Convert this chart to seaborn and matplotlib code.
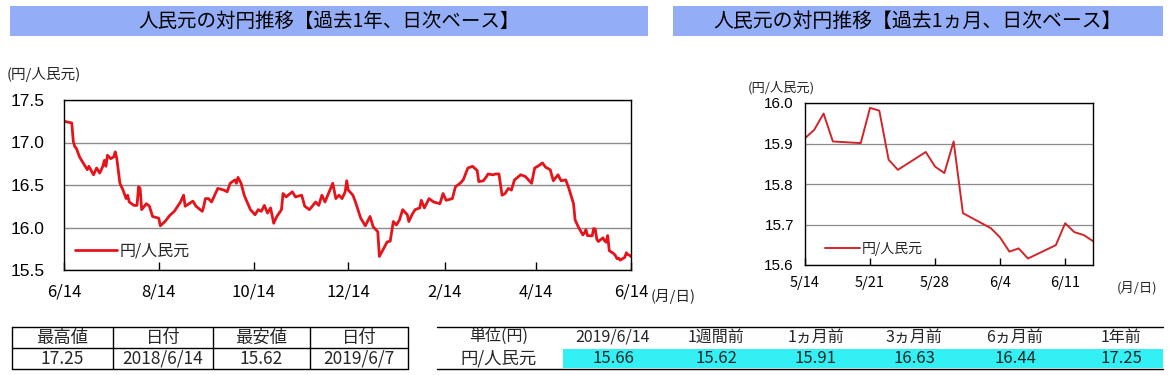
import numpy as np
import pandas as pd
import matplotlib
matplotlib.use("Agg")
import matplotlib.pyplot as plt
import seaborn as sns
from matplotlib.patches import Rectangle
from matplotlib.lines import Line2D

# ---------------- data ----------------
year_start = "2018-06-14"
# calendar-day offsets from 2018-06-14
year_day_offsets = [0, 5, 6, 7, 8, 10, 13, 15, 16, 19, 21, 23, 25, 26, 27, 28, 30, 32, 33, 34,
                    36, 38, 40, 41, 42, 45, 47, 48, 49, 50, 53, 55, 57, 61, 62, 65, 68, 71, 75, 77,
                    78, 83, 85, 89, 90, 91, 93, 95, 99, 103, 105, 107, 110, 111, 112, 114, 116, 120, 123, 125,
                    127, 129, 131, 133, 135, 137, 140, 141, 143, 147, 149, 153, 155, 158, 162, 164, 166, 168, 173, 175,
                    177, 179, 181, 182, 183, 186, 188, 191, 194, 197, 199, 202, 203, 206, 208, 210, 212, 214, 216, 218,
                    221, 222, 224, 226, 229, 230, 232, 235, 238, 242, 244, 246, 250, 252, 255, 257, 260, 263, 266, 267,
                    270, 272, 273, 276, 278, 280, 282, 284, 286, 288, 290, 294, 297, 301, 303, 305, 308, 310, 313, 315,
                    318, 320, 323, 325, 328, 329, 331]
year_values = [17.25, 17.23, 17.01, 16.95, 16.93, 16.83, 16.74, 16.68, 16.72, 16.62, 16.70, 16.64, 16.72, 16.79, 16.72, 16.85, 16.81, 16.83, 16.89, 16.81,
               16.52, 16.44, 16.34, 16.38, 16.30, 16.26, 16.26, 16.48, 16.46, 16.21, 16.28, 16.25, 16.13, 16.11, 16.02, 16.07, 16.14, 16.19, 16.30, 16.38,
               16.25, 16.31, 16.25, 16.19, 16.25, 16.34, 16.34, 16.30, 16.46, 16.44, 16.42, 16.52, 16.56, 16.52, 16.59, 16.52, 16.38, 16.21, 16.15, 16.21,
               16.19, 16.26, 16.17, 16.23, 16.05, 16.13, 16.21, 16.40, 16.36, 16.42, 16.36, 16.38, 16.25, 16.21, 16.30, 16.26, 16.38, 16.30, 16.52, 16.34,
               16.38, 16.34, 16.42, 16.55, 16.44, 16.38, 16.28, 16.11, 16.02, 16.13, 16.01, 15.95, 15.66, 15.76, 15.83, 15.84, 16.07, 16.03, 16.09, 16.21,
               16.15, 16.07, 16.15, 16.21, 16.23, 16.32, 16.23, 16.34, 16.30, 16.28, 16.40, 16.32, 16.34, 16.48, 16.52, 16.56, 16.70, 16.72, 16.67, 16.54,
               16.55, 16.60, 16.63, 16.62, 16.63, 16.63, 16.38, 16.40, 16.46, 16.44, 16.56, 16.62, 16.60, 16.52, 16.70, 16.72, 16.76, 16.71, 16.68, 16.55,
               16.62, 16.55, 16.56, 16.46, 16.28, 16.09, 16.01]

month_dates = ["2019-05-14", "2019-05-15", "2019-05-16", "2019-05-17", "2019-05-20", "2019-05-21",
               "2019-05-22", "2019-05-23", "2019-05-24", "2019-05-27", "2019-05-28", "2019-05-29",
               "2019-05-30", "2019-05-31", "2019-06-03", "2019-06-04", "2019-06-05", "2019-06-06",
               "2019-06-07", "2019-06-10", "2019-06-11", "2019-06-12", "2019-06-13", "2019-06-14"]
month_values = [15.913, 15.934, 15.974, 15.905, 15.901, 15.988,
                15.981, 15.860, 15.835, 15.879, 15.843, 15.827,
                15.905, 15.728, 15.691, 15.668, 15.633, 15.641,
                15.616, 15.649, 15.703, 15.681, 15.674, 15.659]

series_name = "円/人民元"
year_xtick_dates = ["2018-06-14", "2018-08-14", "2018-10-14", "2018-12-14",
                    "2019-02-14", "2019-04-14", "2019-06-14"]
year_xtick_labels = ["6/14", "8/14", "10/14", "12/14", "2/14", "4/14", "6/14"]
year_yticks = [15.5, 16.0, 16.5, 17.0, 17.5]
month_xtick_dates = ["2019-05-14", "2019-05-21", "2019-05-28", "2019-06-04", "2019-06-11"]
month_xtick_labels = ["5/14", "5/21", "5/28", "6/4", "6/11"]
month_yticks = [15.6, 15.7, 15.8, 15.9, 16.0]

title_year = "人民元の対円推移【過去1年、日次ベース】"
title_month = "人民元の対円推移【過去1ヵ月、日次ベース】"
unit_label = "(円/人民元)"
date_label = "(月/日)"

hl_headers = ["最高値", "日付", "最安値", "日付"]
hl_values = ["17.25", "2018/6/14", "15.62", "2019/6/7"]
cmp_headers = ["単位(円)", "2019/6/14", "1週間前", "1ヵ月前", "3ヵ月前", "6ヵ月前", "1年前"]
cmp_row_label = "円/人民元"
cmp_values = ["15.66", "15.62", "15.91", "16.63", "16.44", "17.25"]

# ---------------- frames ----------------
month_df = pd.DataFrame({"date": pd.to_datetime(month_dates), "value": month_values})
year_part = pd.DataFrame({"date": pd.Timestamp(year_start) + pd.to_timedelta(year_day_offsets, unit="D"),
                          "value": year_values})
year_df = pd.concat([year_part, month_df], ignore_index=True)

# ---------------- style ----------------
sns.set_theme(style="white")
plt.rcParams["font.family"] = ["Noto Sans CJK JP", "DejaVu Sans"]

RED1 = "#E5141B"
RED2 = "#D0262B"
GRID = "#8C8C8C"
BANNER = "#93AEF6"
CYAN = "#33F0F4"

W, H = 1170, 375
fig = plt.figure(figsize=(W / 100, H / 100), dpi=100)
fig.patch.set_facecolor("white")


def fx(px):
    return px / W


def fy(py):
    return 1 - py / H


def hline(x0, x1, y, lw=1.0):
    fig.add_artist(Line2D([fx(x0), fx(x1)], [fy(y), fy(y)], transform=fig.transFigure,
                          color="black", lw=lw))


def vline(x, y0, y1, lw=1.0):
    fig.add_artist(Line2D([fx(x), fx(x)], [fy(y0), fy(y1)], transform=fig.transFigure,
                          color="black", lw=lw))


# banners
for (x0, x1, txt, fs) in [(10, 648, title_year, 14), (673, 1163, title_month, 14.3)]:
    fig.add_artist(Rectangle((fx(x0), fy(36)), fx(x1) - fx(x0), fy(6) - fy(36),
                             transform=fig.transFigure, facecolor=BANNER, edgecolor="none"))
    fig.text(fx((x0 + x1) / 2), fy(21), txt, ha="center", va="center", fontsize=fs, color="black")

# ---------------- left chart ----------------
ax1 = fig.add_axes([fx(64), fy(270), fx(631) - fx(64), fy(100) - fy(270)])
sns.lineplot(data=year_df, x="date", y="value", ax=ax1, color=RED1, lw=2.0, label=series_name)
ax1.set_xlim(year_df["date"].iloc[0], year_df["date"].iloc[-1])
ax1.set_ylim(15.5, 17.5)
ax1.set_yticks(year_yticks)
ax1.set_yticklabels([f"{v:.1f}" for v in year_yticks], fontsize=12.5, family="Liberation Sans")
ax1.set_xticks(pd.to_datetime(year_xtick_dates))
ax1.set_xticklabels(year_xtick_labels, fontsize=12)
ax1.set_xlabel("")
ax1.set_ylabel("")
ax1.grid(axis="y", color=GRID, lw=1.0)
ax1.grid(axis="x", visible=False)
ax1.tick_params(axis="x", direction="in", length=6, width=1, pad=10, colors="black", bottom=True)
ax1.tick_params(axis="y", length=0, pad=14, colors="black")
for s in ax1.spines.values():
    s.set_color("black")
    s.set_linewidth(1.0)
ax1.legend(loc="center left", bbox_to_anchor=(0.02, 0.11), frameon=False, fontsize=11.5,
           handlelength=2.6, handletextpad=0.15, borderpad=0, borderaxespad=0)
fig.text(fx(7), fy(74), unit_label, ha="left", va="center", fontsize=10.5)
fig.text(fx(651), fy(297), date_label, ha="left", va="center", fontsize=10.5)

# ---------------- right chart ----------------
ax2 = fig.add_axes([fx(805), fy(265), fx(1093) - fx(805), fy(103) - fy(265)])
sns.lineplot(data=month_df, x="date", y="value", ax=ax2, color=RED2, lw=1.4, label=series_name)
ax2.set_xlim(month_df["date"].iloc[0], month_df["date"].iloc[-1])
ax2.set_ylim(15.6, 16.0)
ax2.set_yticks(month_yticks)
ax2.set_yticklabels([f"{v:.1f}" for v in month_yticks], fontsize=11, family="Liberation Sans")
ax2.set_xticks(pd.to_datetime(month_xtick_dates))
ax2.set_xticklabels(month_xtick_labels, fontsize=10.5)
ax2.set_xlabel("")
ax2.set_ylabel("")
ax2.grid(axis="y", color=GRID, lw=0.9)
ax2.grid(axis="x", visible=False)
ax2.tick_params(axis="x", direction="in", length=5, width=1, pad=8, colors="black", bottom=True)
ax2.tick_params(axis="y", length=0, pad=8, colors="black")
for s in ax2.spines.values():
    s.set_color("black")
    s.set_linewidth(1.0)
ax2.legend(loc="center left", bbox_to_anchor=(0.07, 0.10), frameon=False, fontsize=10,
           handlelength=2.5, handletextpad=0.1, borderpad=0, borderaxespad=0)
fig.text(fx(748), fy(88), unit_label, ha="left", va="center", fontsize=9.5)
fig.text(fx(1117), fy(288), date_label, ha="left", va="center", fontsize=9.5)

# ---------------- left table ----------------
tx = [12, 113, 213, 310, 408]
ty = [327, 348, 369]
for y in ty:
    hline(tx[0], tx[-1], y)
for x in tx:
    vline(x, ty[0], ty[-1])
for i in range(4):
    cx = (tx[i] + tx[i + 1]) / 2
    fig.text(fx(cx), fy(337.5), hl_headers[i], ha="center", va="center", fontsize=12.5)
    fig.text(fx(cx), fy(358.5), hl_values[i], ha="center", va="center", fontsize=12.5)

# ---------------- right table ----------------
cols = [499, 613, 716, 816, 914, 1015, 1121]
fig.add_artist(Rectangle((fx(563), fy(368)), fx(1163) - fx(563), fy(349) - fy(368),
                         transform=fig.transFigure, facecolor=CYAN, edgecolor="none"))
hline(437, 1163, 327)
hline(437, 1163, 369)
for i, h in enumerate(cmp_headers):
    fig.text(fx(cols[i]), fy(337.5), h, ha="center", va="center", fontsize=11.5)
fig.text(fx(cols[0]), fy(358.5), cmp_row_label, ha="center", va="center", fontsize=12.5)
for i, v in enumerate(cmp_values):
    fig.text(fx(cols[i + 1]), fy(358.5), v, ha="center", va="center", fontsize=12)

fig.savefig("out.png", dpi=100, facecolor="white")
